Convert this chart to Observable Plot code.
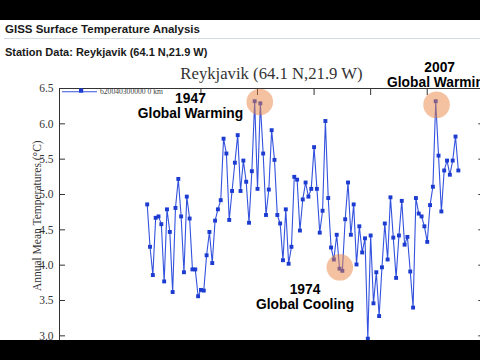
<!DOCTYPE html>
<html><head><meta charset="utf-8">
<script src="https://cdn.jsdelivr.net/npm/d3@7"></script>
<script src="https://cdn.jsdelivr.net/npm/@observablehq/plot@0.6"></script>
<style>
body{margin:0;background:#000;}
#wrap{position:relative;width:480px;height:360px;overflow:hidden;background:#000;}
#page{position:absolute;left:0;top:20px;width:480px;height:320px;background:#fff;}
.hd{position:absolute;left:5px;font-family:"Liberation Sans",Arial,sans-serif;font-weight:bold;color:#1a1a1a;white-space:nowrap;}
#h1{top:23px;font-size:11.5px;}
#rule{position:absolute;left:4px;top:38px;width:476px;height:1px;background:#d5dbe2;}
#h2{top:45.5px;font-size:11px;}
#ctitle{position:absolute;left:0;width:543px;text-align:center;top:64px;font-family:"Liberation Serif",serif;font-size:16.7px;color:#333;white-space:nowrap;}
#chart{position:absolute;left:0;top:0;width:490px;}
#chart svg{max-width:none !important;}
#legend{position:absolute;left:0;top:0;}
#bottom{position:absolute;left:0;top:340px;width:480px;height:20px;background:#000;}
</style>
</head>
<body>
<div id="wrap">
  <div id="page"></div>
  <div id="chart"></div>
  <div class="hd" id="h1">GISS Surface Temperature Analysis</div>
  <div id="rule"></div>
  <div class="hd" id="h2">Station Data: Reykjavik (64.1 N,21.9 W)</div>
  <div id="ctitle">Reykjavik (64.1 N,21.9 W)</div>
  <svg id="legend" width="200" height="110"></svg>
  <div id="bottom"></div>
</div>
<script>
// ---- data ----
const startYear = 1901;
const temps = [
  4.86, 4.26, 3.86, 4.67, 4.69, 4.58, 3.77, 4.79, 4.47, 3.62,   // 1901-1910
  4.81, 5.22, 4.69, 3.90, 4.97, 4.66, 3.94, 3.94, 3.56, 3.65,   // 1911-1920
  3.64, 4.14, 4.47, 4.03, 4.63, 4.79, 4.92, 5.79, 5.58, 4.64,   // 1921-1930
  5.05, 5.45, 5.84, 5.05, 5.48, 5.18, 4.60, 5.33, 6.32, 5.08,   // 1931-1940
  6.29, 5.58, 4.71, 5.07, 5.91, 5.49, 4.71, 4.59, 4.07, 4.79,   // 1941-1950
  4.02, 4.26, 5.25, 5.21, 4.49, 4.93, 5.17, 4.97, 5.08, 5.67,   // 1951-1960
  5.08, 4.46, 4.77, 6.04, 4.95, 4.25, 4.08, 4.43, 3.95, 3.92,   // 1961-1970
  4.65, 5.17, 4.43, 4.86, 4.01, 4.55, 4.18, 4.38, 2.96, 4.42,   // 1971-1980
  3.46, 3.90, 3.28, 3.97, 4.59, 4.08, 4.96, 4.39, 3.82, 4.42,   // 1981-1990
  4.91, 4.29, 4.40, 3.91, 3.40, 4.95, 4.73, 4.69, 4.55, 4.33,   // 1991-2000
  4.85, 5.11, 6.32, 5.55, 4.76, 5.34, 5.48, 5.28, 5.48, 5.82,   // 2001-2010
  5.34                                                           // 2011
];
const years = temps.map((_, i) => startYear + i);
const yTicks = [3.0, 3.5, 4.0, 4.5, 5.0, 5.5, 6.0, 6.5];
const xTicks = [1920, 1940, 1960, 1980, 2000, 2020];
const yLabel = "Annual Mean Temperatures (°C)";
const legendLabel = "620040300000 0 km";

// annotations
const annYearText = ["1947", "2007", "1974"];
const annCaption = ["Global Warming", "Global Warming", "Global Cooling"];
const annTextX = [1916.3, 2004.4, 1956.8];
const annTextY = [6.252, 6.694, 3.551];
const circleX = [1940.8, 2003.3, 1969.1];
const circleY = [6.31, 6.27, 3.97];

const data = years.map((year, i) => ({year, temp: temps[i]}));
const anns = annYearText.map((t, i) => ({x: annTextX[i], y: annTextY[i], text: t + "\n" + annCaption[i]}));
const circles = circleX.map((x, i) => ({x, y: circleY[i]}));

const chart = Plot.plot({
  width: 490,
  height: 372,
  marginLeft: 59,
  marginRight: 6.7,
  marginTop: 88,
  marginBottom: 29.6,
  style: {background: "transparent", fontFamily: "Liberation Serif", fontSize: "11px", color: "#333", overflow: "visible", maxWidth: "none"},
  x: {domain: [1870, 2020]},
  y: {domain: [2.9, 6.5]},
  marks: [
    Plot.frame({stroke: "#333", strokeWidth: 1}),
    Plot.axisY({anchor: "left", ticks: yTicks, tickSize: -6, tickPadding: 12, tickFormat: d3.format(".1f"),
      fontSize: 11.5, label: yLabel, labelAnchor: "center", labelOffset: 27, labelArrow: "none"}),
    Plot.axisY({anchor: "right", ticks: yTicks, tickSize: -6, tickFormat: () => "", label: null}),
    Plot.axisX({anchor: "top", ticks: xTicks, tickSize: -6, tickFormat: () => "", label: null}),
    Plot.line(data, {x: "year", y: "temp", stroke: "#3352de", strokeWidth: 1.1}),
    Plot.dot(data, {x: "year", y: "temp", symbol: "square", r: 2.2, fill: "#1c3bd0"}),
    Plot.dot(circles, {x: "x", y: "y", r: 13.3, fill: "#ea8644", fillOpacity: 0.5}),
    Plot.text(anns, {x: "x", y: "y", text: "text", fontFamily: "Liberation Sans", fontWeight: "bold",
      fontSize: 13.8, lineHeight: 1.05, fill: "#000"})
  ]
});
chart.style.maxWidth = "none";
document.getElementById("chart").appendChild(chart);

// legend entry (top-left inside frame)
const lg = d3.select("#legend");
lg.append("line").attr("x1", 62).attr("x2", 97).attr("y1", 91.7).attr("y2", 91.7)
  .attr("stroke", "#3352de").attr("stroke-width", 1.1);
lg.append("rect").attr("x", 79).attr("y", 88.5).attr("width", 4.2).attr("height", 4.2).attr("fill", "#1c3bd0");
lg.append("text").attr("x", 100).attr("y", 93.5).attr("font-family", "Liberation Serif")
  .attr("font-size", 7.6).attr("fill", "#444").text(legendLabel);
</script>
</body></html>
